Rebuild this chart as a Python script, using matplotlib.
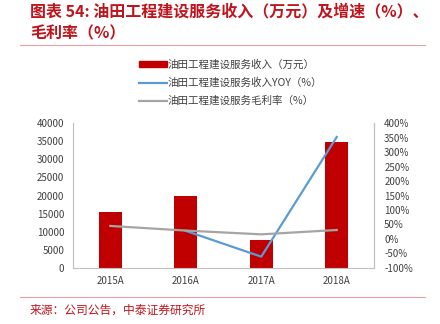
import numpy as np
import matplotlib.pyplot as plt
from matplotlib.lines import Line2D
from matplotlib.patches import Patch

plt.rcParams['font.family'] = ['Noto Sans CJK SC', 'DejaVu Sans']

years = ["2015A", "2016A", "2017A", "2018A"]
revenue = [15500, 19850, 7700, 34800]
yoy = [np.nan, 28, -61, 352]
margin = [45, 29, 16, 31]

red = '#C00000'
blue = '#5B9BD5'
gray = '#A5A5A5'
txt = '#404040'
title_red = '#C0141C'

fig = plt.figure(figsize=(4.4, 3.24), dpi=100)
ax = fig.add_axes([0.165, 0.173, 0.686, 0.447])
x = np.arange(len(years))
ax.bar(x, revenue, 0.31, color=red, zorder=2)
ax.set_xlim(-0.5, 3.5)
ax.set_ylim(0, 40000)
ax.set_yticks(range(0, 40001, 5000))
ax.set_xticks(x)
ax.set_xticklabels(years)
ax.tick_params(length=0, labelsize=7, colors=txt, pad=6)
ax.spines['top'].set_visible(False)
for s in ['left', 'bottom', 'right']:
    ax.spines[s].set_color('#BFBFBF')

ax2 = ax.twinx()
ax2.plot(x, yoy, color=blue, lw=1.6, zorder=3)
ax2.plot(x, margin, color=gray, lw=1.6, zorder=3)
ax2.set_ylim(-100, 400)
ax2.set_yticks(range(-100, 401, 50))
ax2.set_yticklabels([f"{v}%" for v in range(-100, 401, 50)])
ax2.tick_params(length=0, labelsize=7, colors=txt, pad=7)
ax2.spines['top'].set_visible(False)
ax2.spines['right'].set_color('#BFBFBF')
ax2.spines['left'].set_visible(False)
ax2.spines['bottom'].set_visible(False)

handles = [Patch(color=red),
           Line2D([], [], color=blue, lw=1.6),
           Line2D([], [], color=gray, lw=1.6)]
labels = ["油田工程建设服务收入（万元）", "油田工程建设服务收入YOY（%）", "油田工程建设服务毛利率（%）"]
fig.legend(handles, labels, loc='upper left', bbox_to_anchor=(0.295, 0.845),
           frameon=False, fontsize=7.6, labelcolor=txt, handlelength=2.6,
           handleheight=0.5, handletextpad=0.1, labelspacing=0.72)

fig.text(0.068, 0.99, "图表 54: 油田工程建设服务收入（万元）及增速（%）、",
         color=title_red, fontsize=11.5, fontweight='bold', va='top')
fig.text(0.068, 0.922, "毛利率（%）", color=title_red, fontsize=11.5,
         fontweight='bold', va='top')
fig.add_artist(Line2D([0.045, 0.965], [0.86, 0.86], color='#E8A0A0', lw=0.8))
fig.add_artist(Line2D([0.045, 0.965], [0.083, 0.083], color='#E8A0A0', lw=0.8))
fig.text(0.068, 0.043, "来源：公司公告，中泰证券研究所", color=title_red, fontsize=8.5, va='center')

fig.savefig('out.png', dpi=100)
